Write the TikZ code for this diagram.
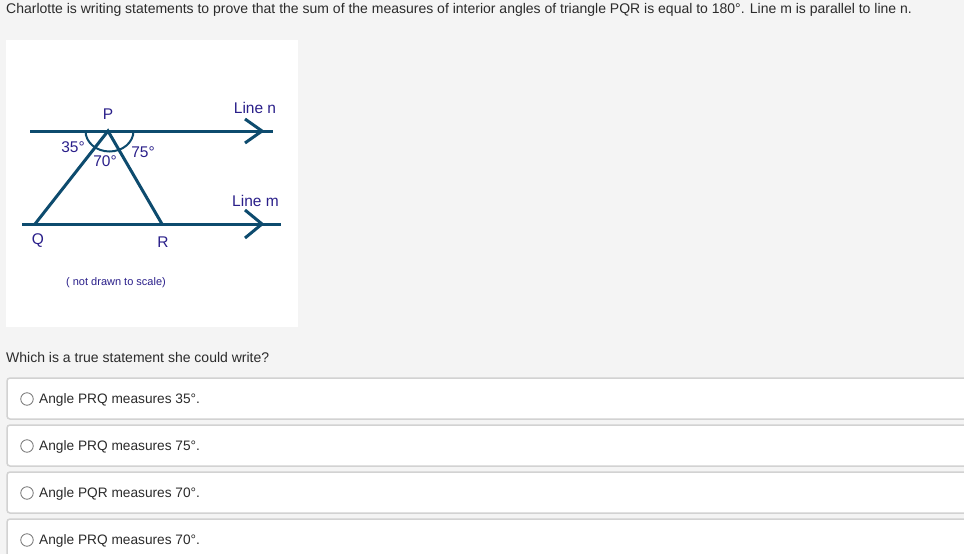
\documentclass[tikz,border=0pt]{standalone}
\usepackage{fontspec}
\setmainfont{Liberation Sans}

\begin{document}
\begin{tikzpicture}[x=1pt,y=-1pt,
  geo/.style={line width=3pt,color=lineblue},
  lab/.style={text=labblue,inner sep=0pt,font=\fontsize{15.5}{17}\selectfont},
  txt/.style={anchor=west,inner sep=0pt,text=textgrey,font=\fontsize{14}{16}\selectfont},
  opt/.style={txt,font=\fontsize{13.7}{16}\selectfont},
  optbox/.style={draw=boxgrey,line width=1.5pt,fill=white,rounded corners=3pt},
  radio/.style={draw=radiogrey,fill=white,line width=0.8pt,circle,minimum size=12.5pt,inner sep=0pt}]

\definecolor{pagegrey}{HTML}{F4F4F4}
\definecolor{lineblue}{HTML}{0D4B6E}
\definecolor{labblue}{HTML}{2A1F8A}
\definecolor{textgrey}{HTML}{2B2B2B}
\definecolor{boxgrey}{HTML}{D2D2D2}
\definecolor{radiogrey}{HTML}{777777}

\useasboundingbox (0,0) rectangle (964,554);
\fill[pagegrey] (0,0) rectangle (964,554);

\node[txt] (question) at (6,10) {Charlotte is writing statements to prove that the sum of the measures of interior angles of triangle PQR is equal to 180°. Line m is parallel to line n.};

%%%% figure
\fill[white] (6,40) rectangle (298,327);

\coordinate (P) at (108,131);
\coordinate (Q) at (35,224);
\coordinate (R) at (162,224);

%line n
\coordinate (nstart) at (30,131);
\coordinate (nend) at (273,131);
\coordinate (ntip) at (262,131);
\draw[geo] (nstart) -- (nend);
\draw[geo] (ntip) ++(-17,-12) -- (ntip) -- ++(-17,12);

%line m
\coordinate (mstart) at (22,224);
\coordinate (mend) at (281,224);
\coordinate (mtip) at (262,224);
\draw[geo] (mstart) -- (mend);
\draw[geo] (mtip) ++(-17,-14) -- (mtip) -- ++(-17,14);

%triangle
\draw[geo,line join=miter] (Q) -- (P) -- (R);

%angle arc at P
\draw[lineblue,line width=2pt] (P) ++(-22.5,0) arc[start angle=180,end angle=0,x radius=24,y radius=20.5];

\node[lab] (Plab) at (108,114) {P};
\node[lab] (Qlab) at (38,241) {Q};
\node[lab] (Rlab) at (163,242) {R};
\node[lab] (a35) at (73,147) {35°};
\node[lab] (a70) at (105,161) {70°};
\node[lab] (a75) at (143,152) {75°};
\node[lab] (nlab) at (255,108) {Line n};
\node[lab] (mlab) at (255.5,201) {Line m};
\node[lab,font=\fontsize{11}{13}\selectfont] (scale) at (116,283) {( not drawn to scale)};

%%%% answers
\node[txt] (ask) at (6,357) {Which is a true statement she could write?};

\draw[optbox] (7,378) rectangle (975,419);
\node[radio] (r1) at (27,399) {};
\node[opt] (o1) at (39,400) {Angle PRQ measures 35°.};

\draw[optbox] (7,425) rectangle (975,466);
\node[radio] (r2) at (27,446) {};
\node[opt] (o2) at (39,447) {Angle PRQ measures 75°.};

\draw[optbox] (7,472) rectangle (975,513);
\node[radio] (r3) at (27,493) {};
\node[opt] (o3) at (39,494) {Angle PQR measures 70°.};

\draw[optbox] (7,519) rectangle (975,565);
\node[radio] (r4) at (27,540) {};
\node[opt] (o4) at (39,541) {Angle PRQ measures 70°.};

\end{tikzpicture}
\end{document}
